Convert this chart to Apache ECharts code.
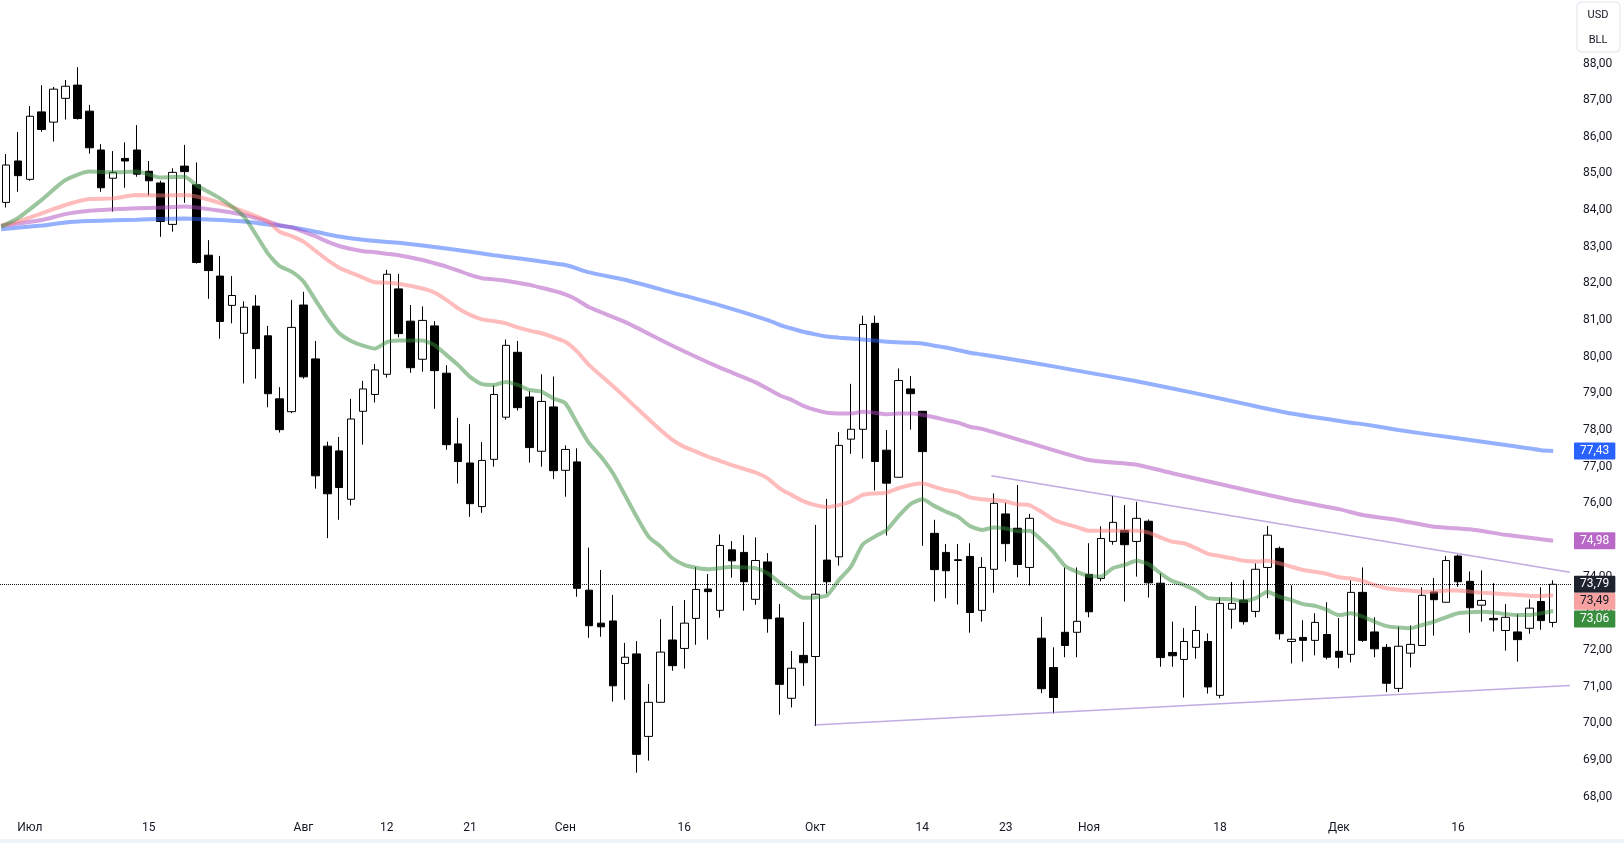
<!DOCTYPE html>
<html><head><meta charset="utf-8">
<script src="https://cdn.jsdelivr.net/npm/echarts@6/dist/echarts.min.js"></script>
<style>html,body{margin:0;padding:0;background:#fff}#c{width:1624px;height:843px}</style>
</head><body><div id="c"></div>
<script>
const DATES = ['06-27','06-28','07-01','07-02','07-03','07-04','07-05','07-08','07-09','07-10','07-11','07-12','07-15','07-16','07-17','07-18','07-19','07-22','07-23','07-24','07-25','07-26','07-29','07-30','07-31','08-01','08-02','08-05','08-06','08-07','08-08','08-09','08-12','08-13','08-14','08-15','08-16','08-19','08-20','08-21','08-22','08-23','08-26','08-27','08-28','08-29','08-30','09-02','09-03','09-04','09-05','09-06','09-09','09-10','09-11','09-12','09-13','09-16','09-17','09-18','09-19','09-20','09-23','09-24','09-25','09-26','09-27','09-30','10-01','10-02','10-03','10-04','10-07','10-08','10-09','10-10','10-11','10-14','10-15','10-16','10-17','10-18','10-21','10-22','10-23','10-24','10-25','10-28','10-29','10-30','10-31','11-01','11-04','11-05','11-06','11-07','11-08','11-11','11-12','11-13','11-14','11-15','11-18','11-19','11-20','11-21','11-22','11-25','11-26','11-27','11-28','11-29','12-02','12-03','12-04','12-05','12-06','12-09','12-10','12-11','12-12','12-13','12-16','12-17','12-18','12-19','12-20','12-23','12-24','12-26','12-27'];
const OPEN  = [84.21,85.34,84.84,86.68,86.40,87.05,87.41,86.70,85.64,84.87,85.41,85.64,85.06,84.74,83.61,85.20,84.69,82.77,82.20,81.40,80.64,81.38,80.57,78.85,78.50,81.41,79.94,77.56,77.43,76.11,78.51,78.97,79.52,81.85,80.97,79.93,80.84,79.55,77.62,77.10,75.91,77.20,78.35,80.12,78.90,77.42,78.63,76.90,77.13,73.63,72.73,72.79,71.63,71.89,69.64,70.57,72.27,72.04,72.86,73.66,73.08,74.73,74.66,73.38,74.40,72.87,70.68,71.85,71.82,74.45,74.54,77.75,78.02,80.91,77.45,76.71,79.12,78.51,75.18,74.66,74.46,74.55,73.08,74.20,75.71,75.32,74.25,72.32,71.52,72.48,72.48,74.06,73.95,74.96,75.26,74.96,75.51,73.82,71.93,71.74,72.07,72.23,70.76,73.11,73.36,73.05,74.25,74.77,72.23,72.34,72.26,72.42,71.96,71.88,73.57,72.49,72.07,70.95,71.91,72.12,73.58,73.30,74.56,73.87,73.22,72.86,72.53,72.49,72.59,73.32,72.75];
const CLOSE = [85.23,84.94,86.56,86.20,87.30,87.38,86.50,85.70,84.61,85.03,85.34,84.98,84.80,83.69,85.03,85.05,82.57,82.35,80.96,81.67,81.35,80.22,78.99,78.01,80.80,79.45,76.75,76.26,76.43,78.30,79.12,79.64,82.25,80.63,79.70,80.99,79.62,77.60,77.14,75.99,77.17,78.97,80.31,78.61,77.52,78.78,76.89,77.47,73.68,72.66,72.63,71.02,71.80,69.15,70.57,71.94,71.57,72.73,73.65,73.59,74.85,74.43,73.86,74.44,72.85,71.06,71.50,71.65,73.52,73.86,77.58,78.02,80.88,77.14,76.55,79.35,78.99,77.41,74.19,74.16,74.44,73.02,74.25,76.00,74.90,74.33,75.59,70.94,70.70,72.12,72.78,73.04,75.04,75.48,74.87,75.59,73.83,71.79,71.84,72.23,72.53,70.99,73.27,73.27,72.77,74.20,75.13,72.44,72.29,72.26,72.75,71.80,71.80,73.57,72.26,72.03,71.09,72.10,72.15,73.49,73.37,74.44,73.86,73.15,73.35,72.82,72.89,72.28,73.14,72.80,73.79];
const LOW   = [84.07,84.50,84.80,86.14,85.87,86.47,86.47,85.54,84.50,83.96,84.61,84.91,84.40,83.27,83.41,84.20,82.54,81.58,80.49,80.91,79.27,79.40,78.62,77.93,78.46,79.40,76.40,75.05,75.55,75.94,77.60,78.75,79.43,80.53,79.56,79.59,78.58,77.46,76.54,75.63,75.74,77.00,78.28,78.53,77.11,77.00,76.66,76.18,73.45,72.33,72.36,70.59,70.64,68.65,68.98,70.57,71.43,71.49,72.14,72.28,72.88,73.97,73.07,73.23,72.47,70.23,70.43,71.02,69.92,73.54,74.30,77.35,77.22,76.35,75.12,76.71,78.01,74.84,73.32,73.41,73.24,72.47,72.77,73.56,74.41,73.98,73.76,70.82,70.27,71.80,71.80,72.89,73.87,74.87,73.32,74.00,73.43,71.54,71.54,70.70,71.76,70.81,70.68,72.58,72.69,72.89,73.41,72.28,71.63,71.68,71.85,71.74,71.50,71.66,72.22,71.80,70.85,70.85,71.52,72.12,72.39,73.30,73.72,72.47,72.77,72.50,71.98,71.68,72.44,72.55,72.62];
const HIGH  = [85.53,86.13,86.84,87.41,87.36,87.55,87.90,86.87,85.80,85.61,85.85,86.32,85.34,84.80,85.14,85.78,85.30,83.18,82.75,82.20,81.51,81.68,80.84,79.17,81.55,81.77,80.43,77.68,77.81,78.85,79.34,79.80,82.37,82.26,81.41,81.37,80.97,79.77,78.33,78.16,77.67,79.22,80.47,80.43,79.06,79.52,79.46,77.58,77.50,74.79,74.18,73.50,72.19,72.24,71.07,72.84,73.20,73.36,74.26,74.07,75.15,74.97,75.13,75.07,74.64,73.25,71.97,72.76,75.41,76.12,77.94,79.26,81.12,81.12,78.00,79.68,79.47,78.51,75.55,74.89,74.89,74.91,74.53,76.27,76.02,76.50,75.71,72.90,72.07,74.25,74.25,74.91,75.37,76.20,75.95,76.04,75.56,74.09,72.77,72.60,73.20,72.45,73.43,73.85,73.91,74.36,75.38,74.82,73.76,72.81,73.00,73.30,72.87,73.90,74.25,72.89,72.16,72.63,72.67,73.71,73.96,74.56,74.60,74.14,74.17,73.82,73.25,72.98,73.38,73.71,73.90];

// moving averages as [candle index, value]
const MA_GREEN = [[-0.4,83.55],[1,83.78],[3,84.28],[5,84.82],[7,85.05],[9,85.03],[11,85.05],[13,84.89],[15,84.91],[16,84.68],[18,84.32],[20,83.82],[22,82.82],[23,82.47],[24,82.32],[25,82.05],[26,81.55],[27,81.05],[28,80.64],[29,80.43],[30,80.30],[31,80.22],[32,80.40],[33,80.44],[35,80.44],[36,80.32],[37,80.05],[38,79.77],[39,79.45],[40,79.25],[41,79.23],[42,79.31],[43,79.23],[44,79.09],[45,79.05],[46,78.86],[47,78.73],[48,78.18],[49,77.64],[50,77.27],[51,76.82],[52,76.23],[53,75.63],[54,75.09],[55,74.82],[56,74.50],[57,74.32],[58,74.24],[59,74.20],[60,74.23],[61,74.27],[62,74.25],[63,74.23],[64,74.09],[65,73.84],[66,73.62],[67,73.42],[68,73.43],[69,73.49],[70,73.91],[71,74.27],[72,74.88],[73,75.09],[74,75.27],[75,75.65],[76,75.98],[77,76.11],[78,75.93],[79,75.77],[80,75.63],[81,75.38],[82,75.27],[83,75.34],[84,75.31],[85,75.24],[86,75.25],[87,75.00],[88,74.68],[89,74.29],[90,74.13],[91,74.02],[92,74.00],[93,74.23],[94,74.32],[95,74.43],[96,74.34],[97,74.09],[98,73.88],[99,73.77],[100,73.62],[101,73.41],[102,73.39],[103,73.38],[104,73.33],[105,73.41],[106,73.59],[107,73.45],[108,73.36],[109,73.25],[110,73.20],[111,73.09],[112,72.95],[113,73.00],[114,72.91],[115,72.77],[116,72.65],[117,72.61],[118,72.59],[119,72.68],[120,72.77],[121,72.89],[122,73.00],[123,73.03],[124,73.04],[125,73.02],[126,72.98],[127,72.95],[128,72.95],[129,73.00],[130,73.06]];
const MA_PINK = [[-0.4,83.58],[1,83.69],[3,83.91],[5,84.14],[7,84.30],[9,84.32],[11,84.41],[13,84.40],[15,84.41],[16,84.37],[18,84.19],[20,83.96],[22,83.69],[23,83.41],[24,83.29],[25,83.14],[26,82.89],[27,82.64],[28,82.43],[29,82.29],[30,82.16],[31,82.03],[32,82.02],[33,81.99],[35,81.86],[36,81.75],[37,81.55],[38,81.32],[39,81.14],[40,81.02],[41,80.97],[42,80.91],[43,80.80],[44,80.71],[45,80.64],[46,80.53],[47,80.41],[48,80.14],[49,79.77],[51,79.20],[53,78.60],[55,78.00],[56,77.73],[57,77.54],[58,77.41],[59,77.27],[60,77.16],[61,77.04],[62,76.94],[63,76.84],[64,76.68],[65,76.41],[66,76.23],[67,76.06],[68,75.95],[69,75.90],[70,75.95],[71,76.05],[72,76.23],[73,76.27],[74,76.29],[75,76.41],[76,76.50],[77,76.55],[78,76.45],[79,76.36],[80,76.29],[81,76.16],[82,76.11],[83,76.09],[84,76.05],[85,75.97],[86,75.95],[87,75.77],[88,75.56],[89,75.44],[90,75.35],[91,75.25],[92,75.25],[93,75.25],[94,75.25],[95,75.25],[96,75.20],[97,75.07],[98,74.95],[99,74.91],[100,74.77],[101,74.62],[102,74.56],[103,74.50],[104,74.43],[105,74.41],[106,74.43],[107,74.36],[108,74.27],[109,74.18],[110,74.13],[111,74.07],[112,73.98],[113,73.95],[114,73.88],[115,73.77],[116,73.68],[117,73.64],[118,73.62],[119,73.59],[120,73.59],[121,73.62],[122,73.62],[123,73.59],[124,73.56],[125,73.54],[126,73.52],[127,73.50],[128,73.48],[129,73.47],[130,73.49]];
const MA_PURPLE = [[-0.4,83.57],[3,83.73],[5,83.89],[7,83.98],[9,84.02],[11,84.05],[13,84.07],[15,84.10],[16,84.07],[18,83.98],[20,83.87],[22,83.69],[23,83.59],[24,83.53],[25,83.41],[26,83.29],[27,83.14],[28,83.02],[29,82.94],[30,82.88],[31,82.85],[32,82.81],[33,82.77],[35,82.64],[36,82.55],[37,82.46],[38,82.35],[39,82.23],[40,82.14],[41,82.11],[42,82.07],[43,82.02],[44,81.96],[45,81.88],[46,81.80],[47,81.70],[48,81.55],[49,81.35],[52,80.95],[56,80.30],[60,79.70],[63,79.30],[65,78.95],[66,78.82],[67,78.66],[68,78.55],[69,78.47],[70,78.45],[71,78.45],[72,78.50],[73,78.47],[74,78.43],[75,78.45],[76,78.45],[77,78.41],[78,78.35],[79,78.27],[80,78.20],[81,78.09],[82,78.03],[86,77.65],[91,77.18],[95,77.05],[98,76.82],[103,76.45],[108,76.09],[112,75.84],[114,75.68],[117,75.54],[120,75.36],[123,75.29],[126,75.14],[129,75.02],[130,74.98]];
const MA_BLUE = [[-0.4,83.48],[3,83.58],[5,83.66],[7,83.70],[9,83.72],[11,83.74],[13,83.76],[15,83.77],[16,83.76],[18,83.73],[20,83.69],[22,83.61],[24,83.53],[26,83.41],[28,83.28],[30,83.19],[32,83.13],[33,83.11],[37,82.95],[41,82.77],[47,82.50],[49,82.30],[52,82.10],[56,81.75],[60,81.40],[64,81.00],[65,80.87],[66,80.77],[67,80.68],[68,80.61],[69,80.55],[70,80.52],[72,80.47],[74,80.41],[76,80.38],[77,80.36],[78,80.30],[79,80.25],[80,80.18],[81,80.11],[82,80.06],[86,79.85],[90,79.62],[95,79.33],[100,79.00],[104,78.72],[108,78.45],[113,78.20],[114,78.16],[117,78.00],[120,77.86],[123,77.73],[126,77.59],[129,77.45],[130,77.43]];

const TREND_UPPER = [[82.8,76.75],[131.4,74.12]];
const TREND_LOWER = [[67.9,69.95],[131.4,71.03]];

const TICK_IDX  = [2,12,25,32,39,47,57,68,77,84,91,102,112,122];
const TICK_TEXT = ['Июл','15','Авг','12','21','Сен','16','Окт','14','23','Ноя','18','Дек','16'];

const CATS = DATES.concat(['']);
const FONT = 'Roboto, "Liberation Sans", sans-serif';
const fmt = v => v.toFixed(2).replace('.', ',');
const candles = OPEN.map((o, i) => [o, CLOSE[i], LOW[i], HIGH[i]]);
const last = a => a[a.length - 1][1];

function labelStyle(txt, bg, fg, dy) {
  return {show: true, position: 'end', distance: 3, formatter: txt, color: fg,
    backgroundColor: bg, padding: [3, 6, 2, 6], fontSize: 12, fontFamily: FONT,
    borderRadius: 1, offset: [0, dy || 0]};
}
function badge(val, bg, fg, dy) {
  return {
    silent: true, symbol: 'none',
    lineStyle: {color: 'rgba(0,0,0,0)', width: 0, type: 'solid'},
    data: [{yAxis: val}],
    label: labelStyle(fmt(val), bg, fg, dy)
  };
}
function maSeries(data, color, bg, fg, dy) {
  return {type: 'line', xAxisIndex: 1, data: data, showSymbol: false, smooth: 0.2,
    lineStyle: {color: color, width: 4, opacity: 0.5}, z: 3, silent: true,
    markLine: badge(last(data), bg, fg, dy)};
}
function trend(data) {
  return {type: 'line', xAxisIndex: 1, data: data, showSymbol: false, z: 4, silent: true,
    lineStyle: {color: '#9575cd', width: 1.5, opacity: 0.6}};
}

const chart = echarts.init(document.getElementById('c'));
chart.setOption({
  animation: false,
  backgroundColor: '#ffffff',
  grid: {left: -1.7, right: 53, top: 26.85, bottom: 9.85, containLabel: false},
  xAxis: [
    {type: 'category', data: CATS, boundaryGap: true, offset: -19,
      axisLine: {show: false}, axisTick: {show: false}, splitLine: {show: false},
      axisLabel: {interval: (i) => TICK_IDX.indexOf(i) >= 0,
        formatter: (v, i) => { const k = TICK_IDX.indexOf(i); return k >= 0 ? TICK_TEXT[k] : ''; },
        color: '#131722', fontSize: 12, fontFamily: FONT, margin: 8}},
    {type: 'value', min: -0.5, max: 131.5, show: false}
  ],
  yAxis: {type: 'value', position: 'right', min: 67, max: 89, interval: 1, scale: true,
    axisLine: {show: false}, axisTick: {show: false}, splitLine: {show: false},
    axisLabel: {color: '#131722', fontSize: 12, fontFamily: FONT, margin: 12,
      formatter: v => (v <= 67 || v >= 89) ? '' : fmt(v)}},
  series: [
    {type: 'candlestick', data: candles, barWidth: 8, z: 2, silent: true,
      itemStyle: {color: '#ffffff', color0: '#000000', borderColor: '#000000', borderColor0: '#000000', borderWidth: 1},
      markLine: {silent: true, symbol: 'none', data: [{yAxis: CLOSE[CLOSE.length - 1]}],
        lineStyle: {type: 'dotted', color: '#131722', width: 1},
        label: labelStyle(fmt(CLOSE[CLOSE.length - 1]), '#1e222d', '#ffffff', 0)}},
    maSeries(MA_BLUE, '#2962ff', '#2962ff', '#ffffff'),
    maSeries(MA_PURPLE, '#ab47bc', '#ba68c8', '#ffffff'),
    maSeries(MA_PINK, '#ff7a7a', '#f7a1a1', '#131722', 6),
    maSeries(MA_GREEN, '#388e3c', '#388e3c', '#ffffff', 8),
    trend(TREND_UPPER),
    trend(TREND_LOWER)
  ],
  graphic: [
    {type: 'rect', shape: {x: 1577, y: 2, width: 43, height: 50, r: 4}, style: {fill: '#ffffff', stroke: '#e0e3eb', lineWidth: 1}},
    {type: 'text', x: 1598, y: 15, style: {text: 'USD', fill: '#131722', font: '11px ' + FONT, textAlign: 'center', textVerticalAlign: 'middle'}},
    {type: 'text', x: 1598, y: 40, style: {text: 'BLL', fill: '#131722', font: '11px ' + FONT, textAlign: 'center', textVerticalAlign: 'middle'}},
    {type: 'rect', shape: {x: 0, y: 839, width: 1624, height: 4}, style: {fill: '#f0f3fa'}}
  ]
});
</script></body></html>
